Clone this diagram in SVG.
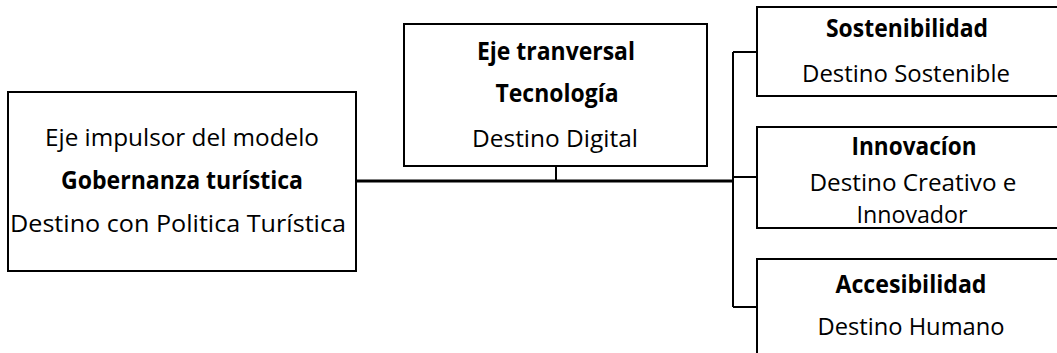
<svg xmlns="http://www.w3.org/2000/svg" width="1057" height="353" viewBox="0 0 1057 353">
<style>
.box{fill:#fff;stroke:#000;stroke-width:2}
.t{font-family:"Open Sans","Noto Sans","Liberation Sans",sans-serif;font-size:24.5px;fill:#000;text-anchor:middle}
.s{font-size:23.5px}
.b{font-weight:bold}
.c{fill:none;stroke:#000;stroke-width:2}
.m{fill:none;stroke:#000;stroke-width:3}
</style>
<rect width="1057" height="353" fill="#fff"/>
<g id="connectors">
<path class="m" d="M356 181H733"/>
<path class="c" d="M556 166V181"/>
<path class="c" d="M733 52V307"/>
<path class="c" d="M733 52H757M733 177H757M733 307H757"/>
</g>
<g id="gobernanza">
<rect class="box" x="8" y="92" width="348" height="179"/>
<text class="t" x="182" y="146" textLength="274" lengthAdjust="spacingAndGlyphs">Eje impulsor del modelo</text>
<text class="t b" x="182" y="189" textLength="242" lengthAdjust="spacingAndGlyphs">Gobernanza turística</text>
<text class="t" x="178" y="232" textLength="336" lengthAdjust="spacingAndGlyphs">Destino con Politica Turística</text>
</g>
<g id="tecnologia">
<rect class="box" x="404" y="24" width="303" height="142"/>
<text class="t b" x="556" y="60" textLength="158" lengthAdjust="spacingAndGlyphs">Eje tranversal</text>
<text class="t b" x="557" y="102" textLength="123" lengthAdjust="spacingAndGlyphs">Tecnología</text>
<text class="t" x="555" y="147" textLength="166" lengthAdjust="spacingAndGlyphs">Destino Digital</text>
</g>
<g id="sostenibilidad">
<rect class="box" x="757" y="7" width="310" height="89"/>
<text class="t b" x="907" y="37" textLength="162" lengthAdjust="spacingAndGlyphs">Sostenibilidad</text>
<text class="t" x="906" y="82" textLength="208" lengthAdjust="spacingAndGlyphs">Destino Sostenible</text>
</g>
<g id="innovacion">
<rect class="box" x="757" y="127" width="310" height="101"/>
<text class="t b" x="914" y="155" textLength="125" lengthAdjust="spacingAndGlyphs">Innovacíon</text>
<text class="t s" x="913" y="191" textLength="207" lengthAdjust="spacingAndGlyphs">Destino Creativo e</text>
<text class="t s" x="912" y="223" textLength="111" lengthAdjust="spacingAndGlyphs">Innovador</text>
</g>
<g id="accesibilidad">
<rect class="box" x="757" y="259" width="310" height="110"/>
<text class="t b" x="911" y="293" textLength="151" lengthAdjust="spacingAndGlyphs">Accesibilidad</text>
<text class="t" x="911" y="335" textLength="187" lengthAdjust="spacingAndGlyphs">Destino Humano</text>
</g>
</svg>
